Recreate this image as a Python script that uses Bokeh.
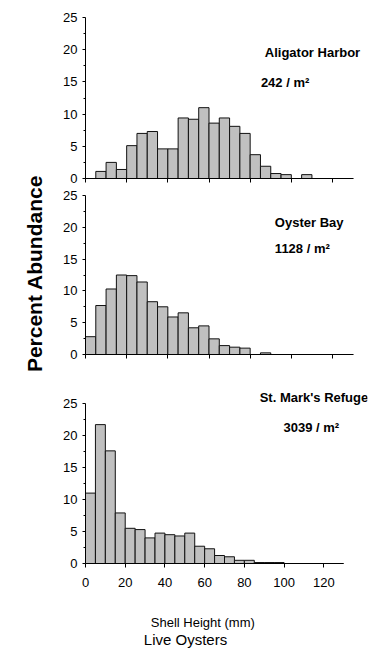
import math
from bokeh.plotting import figure
from bokeh.layouts import row, column
from bokeh.models import (Range1d, FixedTicker, Label, ColumnDataSource,
                          CustomLabelingPolicy)
from bokeh.embed import file_html
from bokeh.resources import INLINE

# ---- data ----
bin_width = 5
bin_left = [i * 5 for i in range(26)]  # 0..125 mm
x_ticks = [0, 20, 40, 60, 80, 100, 120]
y_ticks = [0, 5, 10, 15, 20, 25]

alligator = [0, 1.1, 2.5, 1.4, 5.1, 7.0, 7.3, 4.6, 4.6, 9.4, 9.2, 11.0, 8.6,
             9.4, 8.1, 7.0, 3.7, 1.9, 0.77, 0.6, 0, 0.6, 0, 0, 0, 0]
oyster_bay = [2.8, 7.7, 10.3, 12.5, 12.4, 11.4, 8.3, 7.5, 5.9, 6.55, 4.2, 4.5,
              2.46, 1.4, 1.15, 1.0, 0, 0.26, 0, 0, 0, 0, 0, 0, 0, 0]
st_marks = [11.0, 21.7, 17.6, 7.9, 5.5, 5.3, 4.0, 4.75, 4.5, 4.3, 4.75, 2.7,
            2.3, 1.25, 1.05, 0.5, 0.5, 0.15, 0.15, 0.15, 0, 0, 0, 0, 0, 0]

sites = ["Aligator Harbor", "Oyster Bay", "St. Mark's Refuge"]
densities = ["242 / m\u00b2", "1128 / m\u00b2", "3039 / m\u00b2"]
x_title = "Shell Height (mm)"
y_title = "Percent Abundance"
caption = "Live Oysters"

FONT = "Liberation Sans"
FILL = "#c0c0c0"

LEFT_W = 50
TOTAL_W = 374
X_MAX = 130
Y_MAX = 25


def panel(values, height, x_end, y_end, b_left, b_right, b_top, b_bottom,
          show_x_labels):
    p = figure(width=TOTAL_W - LEFT_W, height=height,
               x_range=Range1d(0, x_end), y_range=Range1d(0, y_end),
               toolbar_location=None, output_backend="svg",
               min_border_left=b_left, min_border_right=b_right,
               min_border_top=b_top, min_border_bottom=b_bottom)
    p.outline_line_color = None
    p.xgrid.visible = False
    p.ygrid.visible = False
    p.background_fill_color = "white"
    p.border_fill_color = "white"

    src = ColumnDataSource(dict(
        left=bin_left,
        right=[b + bin_width for b in bin_left],
        top=values,
    ))
    p.quad(left="left", right="right", top="top", bottom=0, source=src,
           fill_color=FILL, line_color="#111111", line_width=1)

    ya = p.yaxis[0]
    ya.bounds = (0, Y_MAX)
    ya.ticker = FixedTicker(ticks=y_ticks,
                            minor_ticks=[t + 2.5 for t in y_ticks[:-1]])
    ya.major_tick_out = 3
    ya.major_tick_in = 0
    ya.minor_tick_out = 2
    ya.minor_tick_in = 0
    ya.axis_line_color = "black"
    ya.major_tick_line_color = "black"
    ya.minor_tick_line_color = "black"
    ya.major_label_text_font = FONT
    ya.major_label_text_font_size = "13px"
    ya.major_label_text_color = "black"
    ya.major_label_standoff = 5

    xa = p.xaxis[0]
    xa.bounds = (0, X_MAX)
    xa.ticker = FixedTicker(ticks=x_ticks, minor_ticks=[])
    xa.major_tick_out = 4
    xa.major_tick_in = 0
    xa.axis_line_color = "black"
    xa.major_tick_line_color = "black"
    xa.major_label_text_font = FONT
    xa.major_label_text_color = "black"
    if show_x_labels:
        xa.major_label_text_font_size = "13px"
        xa.major_label_standoff = 10
    else:
        xa.major_label_text_font_size = "1px"
        xa.major_label_standoff = 0
        xa.major_label_policy = CustomLabelingPolicy(code="""
            for (const i of indices) indices.unset(i)
            return indices
        """)
    return p


# p1: page y 0..186, frame 17..178 ; x frame 85..371
p1 = panel(alligator, 186, 137, 25, 35, 3, 17, 8, False)
# p2: page y 186..366, frame 195..354 ; x frame 81..367
p2 = panel(oyster_bay, 180, 137, 25, 31, 7, 9, 12, False)
# p3: page y 366..595, frame 387..563 ; x frame 78..374
p3 = panel(st_marks, 229, 142, 27.5, 28, 0, 21, 32, True)


def title(p, text, x, y):
    p.add_layout(Label(x=x, y=y, text=text, text_font=FONT,
                       text_font_size="13px", text_font_style="bold",
                       text_align="left", text_baseline="middle",
                       text_color="black"))


title(p1, sites[0], 87.1, 19.55)
title(p1, densities[0], 85.2, 14.9)
title(p2, sites[1], 92.0, 20.75)
title(p2, densities[1], 92.0, 16.6)
title(p3, sites[2], 87.7, 25.95)
title(p3, densities[2], 99.7, 21.25)

# bottom strip with the axis title and caption
bottom = figure(width=TOTAL_W - LEFT_W, height=65, title=None,
                x_range=Range1d(LEFT_W, TOTAL_W), y_range=Range1d(660, 595),
                x_axis_type=None, y_axis_type=None, toolbar_location=None,
                output_backend="svg", min_border_left=0, min_border_right=0,
                min_border_top=0, min_border_bottom=0)
bottom.outline_line_color = None
bottom.xgrid.visible = False
bottom.ygrid.visible = False
bottom.add_layout(Label(x=125, y=622, text=x_title, text_font=FONT,
                        text_font_size="13px", text_align="left",
                        text_baseline="alphabetic", text_color="black"))
bottom.add_layout(Label(x=117, y=639, text=caption, text_font=FONT,
                        text_font_size="15px", text_align="left",
                        text_baseline="alphabetic", text_color="black"))

left = figure(width=LEFT_W, height=660, title=None, x_range=Range1d(0, LEFT_W),
              y_range=Range1d(660, 0), x_axis_type=None, y_axis_type=None,
              toolbar_location=None, output_backend="svg", min_border_left=0,
              min_border_right=0, min_border_top=0, min_border_bottom=0)
left.outline_line_color = None
left.xgrid.visible = False
left.ygrid.visible = False
left.add_layout(Label(x=34, y=273, text=y_title,
                      angle=math.pi / 2, text_font=FONT,
                      text_font_size="21px", text_font_style="bold",
                      text_align="center", text_baseline="alphabetic",
                      text_color="black"))

layout = row(left, column(p1, p2, p3, bottom))

open("out.html", "w").write(file_html(layout, INLINE))
